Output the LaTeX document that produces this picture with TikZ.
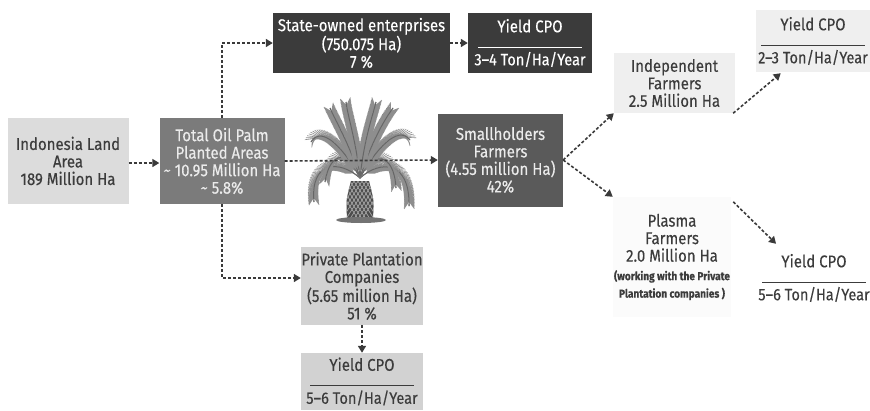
\documentclass[tikz,border=0pt]{standalone}
\usepackage{fontspec}
\setmainfont[FakeStretch=0.88, FakeBold=0.3]{Fira Sans}
\usetikzlibrary{arrows.meta,decorations.pathreplacing,calc}

\definecolor{inkdark}{HTML}{3A3A3A}
\definecolor{boxlight}{HTML}{DCDCDC}
\definecolor{boxmid}{HTML}{7B7B7B}
\definecolor{boxdeep}{HTML}{3B3B3B}
\definecolor{boxsmall}{HTML}{5A5A5A}
\definecolor{boxpale}{HTML}{EFEFEF}
\definecolor{boxfaint}{HTML}{FBFBFB}
\definecolor{boxpriv}{HTML}{D2D2D2}
\definecolor{textdark}{HTML}{3C3C3C}
\definecolor{leafgray}{HTML}{8E8E8E}

\tikzset{
  box/.style={rectangle, inner sep=0pt, align=center,
    font=\fontsize{17}{17.5}\selectfont},
  flow/.style={draw=inkdark, line width=1.6pt, dash pattern=on 3pt off 2pt,
    -{Triangle[length=7pt,width=8pt]}},
  leaflet/.style={draw=leafgray, line width=0.6pt, decorate},
  midrib/.style={draw=black!60, line width=1pt},
}

\newcommand{\yieldtext}[1]{Yield CPO\\[-2pt]\rule{104pt}{1.2pt}\\[0pt]{\fontsize{16.5}{17}\selectfont #1}}

\begin{document}
\begin{tikzpicture}[x=1pt,y=-1pt]
\useasboundingbox (0,0) rectangle (870,410);
\fill[white] (0,0) rectangle (870,410);

% ---- the oil palm in the middle ----
\foreach \ax/\ay/\bx/\by/\cx/\cy in {
  340/160/310/160/314/202,
  380/160/410/160/409/206,
  350/150/330/150/325/182,
  372/150/394/152/396/188,
  345/150/322/124/311/142,
  375/150/398/124/410/140,
  350/145/336/122/330/108,
  370/145/384/120/393/108,
  356/140/348/118/346/102,
  364/140/372/118/376/102}{
  \draw[leaflet, decoration={border, segment length=1.4pt, amplitude=9pt,
      angle=35, pre length=8pt, post length=2pt}]
    (360,178) .. controls (\ax,\ay) and (\bx,\by) .. (\cx,\cy);
  \draw[leaflet, decoration={border, segment length=1.4pt, amplitude=9pt,
      angle=35, pre length=8pt, post length=2pt, mirror}]
    (360,178) .. controls (\ax,\ay) and (\bx,\by) .. (\cx,\cy);
  \draw[midrib] (360,178) .. controls (\ax,\ay) and (\bx,\by) .. (\cx,\cy);
}
% trunk with its criss-cross bark
\begin{scope}
  \path[clip] (351,181) .. controls (346,200) .. (347,218) -- (373,218)
    .. controls (374,200) .. (369,181) -- cycle;
  \fill[black!70] (340,175) rectangle (380,220);
  \foreach \k in {0,...,12}{
    \draw[black!35, line width=0.7pt] (330+4*\k,175) -- (360+4*\k,222);
    \draw[black!35, line width=0.7pt] (390-4*\k,175) -- (360-4*\k,222);
  }
\end{scope}
\fill[black!55] (361,220) ellipse [x radius=25pt, y radius=3pt];

% ---- boxes ----
\node[box, fill=boxlight, text=textdark, minimum width=121pt, minimum height=86pt]
  (land) at (68,161) {Indonesia Land\\Area\\189 Million Ha};
\node[box, fill=boxmid, text=white!92!black, minimum width=125pt, minimum height=86pt]
  (total) at (222,161) {Total Oil Palm\\Planted Areas\\\textasciitilde{} 10.95 Million Ha\\\textasciitilde{} 5.8\%};
\node[box, fill=boxdeep, text=white, minimum width=177pt, minimum height=60pt]
  (state) at (361.5,43) {State-owned enterprises\\(750.075 Ha)\\7 \%};
\node[box, fill=boxdeep, text=white, minimum width=124pt, minimum height=60pt]
  (yieldstate) at (530,43) {\yieldtext{3–4 Ton/Ha/Year}};
\node[box, fill=boxsmall, text=white!92!black, minimum width=125pt, minimum height=93pt]
  (small) at (500.5,160) {Smallholders\\Farmers\\(4.55 million Ha)\\42\%};
\node[box, fill=boxpale, text=textdark, minimum width=121pt, minimum height=60pt]
  (indep) at (674.5,83) {Independent\\Farmers\\2.5 Million Ha};
\node[box, fill=boxpale, text=textdark, minimum width=114pt, minimum height=62pt]
  (yieldindep) at (813,41) {\yieldtext{2–3 Ton/Ha/Year}};
\node[box, fill=boxfaint, text=textdark, minimum width=118pt, minimum height=120pt]
  (plasma) at (672,257) {Plasma\\Farmers\\2.0 Million Ha\\[1pt]
  {\fontsize{11.5}{17.5}\selectfont\bfseries (working with the Private}\\
  {\fontsize{11.5}{17.5}\selectfont\bfseries Plantation companies )}};
\node[box, text=textdark, minimum width=108pt, minimum height=60pt]
  (yieldplasma) at (814,278) {\yieldtext{5–6 Ton/Ha/Year}};
\node[box, fill=boxpriv, text=textdark, minimum width=122pt, minimum height=78pt]
  (priv) at (362,286) {Private Plantation\\Companies\\(5.65 million Ha)\\51 \%};
\node[box, fill=boxpriv, text=textdark, minimum width=122pt, minimum height=57pt]
  (yieldpriv) at (362,381.5) {\yieldtext{5–6 Ton/Ha/Year}};

% ---- connectors ----
\draw[flow] (land.east |- 0,163) -- (total.west |- 0,163);
\draw[flow] (total.north) |- (state.west);
\draw[flow] (total.south) |- (priv.west |- 0,278);
\draw[flow] (total.east) -- (small.west);
\draw[flow] (state.east) -- (yieldstate.west);
\draw[flow] (small.east) -- (indep.south west);
\draw[flow] (small.east) -- (plasma.north west);
\draw[flow] ($(indep.south east)+(-2,0)$) -- ($(yieldindep.south west)+(25,1)$);
\draw[flow] ($(plasma.north east)+(2,5)$) -- ($(yieldplasma.north west)+(18,-4)$);
\draw[flow] (priv.south) -- (yieldpriv.north);
\end{tikzpicture}
\end{document}
